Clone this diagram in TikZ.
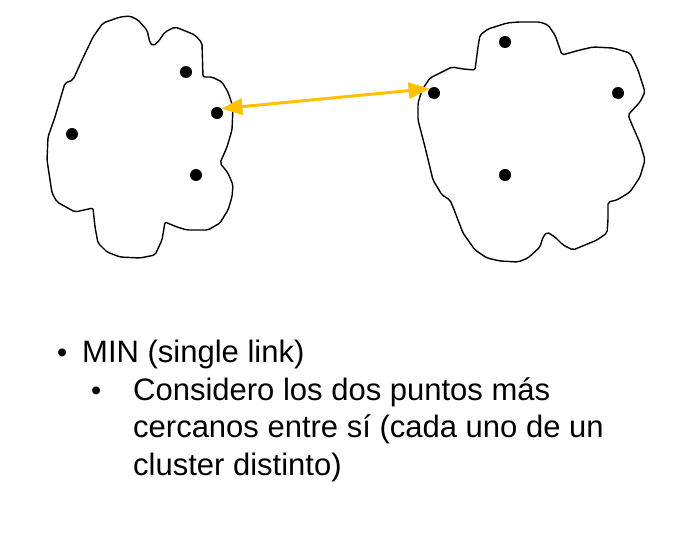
\documentclass[tikz,border=0pt]{standalone}
\usepackage{fontspec}
\setmainfont{Liberation Sans}
\usetikzlibrary{arrows.meta}
\definecolor{linkyellow}{RGB}{255,192,0}
\begin{document}
\begin{tikzpicture}[x=1pt,y=-1pt,
  blob/.style={draw=black,line width=1.4pt,rounded corners=2pt,fill=white},
  pt/.style={circle,fill=black,inner sep=0pt,minimum size=12pt},
  link/.style={draw=linkyellow,line width=3pt,{Triangle[length=21pt,width=16pt]}-{Triangle[length=21pt,width=16pt]}},
  txt/.style={anchor=base west,inner sep=0pt,font=\fontsize{31}{37}\selectfont},
  bul/.style={anchor=base west,inner sep=0pt,font=\fontsize{29}{34}\selectfont}]
\fill[white] (0,0) rectangle (676,546);
\useasboundingbox (0,0) rectangle (676,546);
% left cluster
\draw[blob] (120,17) -- (130,16) -- (138,20) -- (147,30) -- (150,43) -- (153,46) -- (158,42) -- (165,32) -- (175,27) -- (183,30) -- (195,35) -- (202,43) -- (203,77) -- (212,77) -- (222,82) -- (228,92) -- (233,107) -- (232,130) -- (227,147) -- (220,163) -- (228,173) -- (233,185) -- (232,197) -- (228,210) -- (220,223) -- (208,230) -- (187,230) -- (177,227) -- (165,222) -- (162,240) -- (155,255) -- (140,258) -- (120,257) -- (107,252) -- (98,243) -- (95,227) -- (93,208) -- (75,212) -- (57,202) -- (52,193) -- (47,160) -- (48,137) -- (55,117) -- (65,83) -- (73,80) -- (82,60) -- (93,37) -- (103,23) -- cycle;
% right cluster
\draw[blob] (480,35) -- (488,29) -- (507,23) -- (518,22) -- (540,22) -- (548,25) -- (555,35) -- (562,55) -- (580,50) -- (593,47) -- (613,48) -- (630,53) -- (638,70) -- (645,92) -- (640,102) -- (628,115) -- (633,127) -- (640,143) -- (645,160) -- (640,177) -- (630,192) -- (617,200) -- (608,202) -- (608,220) -- (607,233) -- (597,240) -- (573,250) -- (563,245) -- (555,237) -- (547,232) -- (543,237) -- (540,247) -- (528,258) -- (518,262) -- (500,261) -- (487,258) -- (475,250) -- (463,233) -- (453,207) -- (450,200) -- (442,195) -- (433,180) -- (425,147) -- (418,120) -- (418,103) -- (422,90) -- (430,78) -- (442,72) -- (452,67) -- (463,69) -- (475,70) -- (478,47) -- cycle;
% points
\node[pt] (a1) at (186,72) {};
\node[pt] (a2) at (217,113) {};
\node[pt] (a3) at (72,134) {};
\node[pt] (a4) at (196,175) {};
\node[pt] (b1) at (505,42) {};
\node[pt] (b2) at (434,93) {};
\node[pt] (b3) at (618,93) {};
\node[pt] (b4) at (505,175) {};
% link
\draw[link] (a2.north east) -- (b2.north west);
% text
\node[bul] (t0) at (57,362) {•};
\node[txt] (t1) at (82,362) {MIN (single link)};
\node[bul] (t2) at (91,400) {•};
\node[txt] (t3) at (133,400) {Considero los dos puntos más};
\node[txt] (t4) at (133,437) {cercanos entre sí (cada uno de un};
\node[txt] (t5) at (133,475) {cluster distinto)};
\end{tikzpicture}
\end{document}
